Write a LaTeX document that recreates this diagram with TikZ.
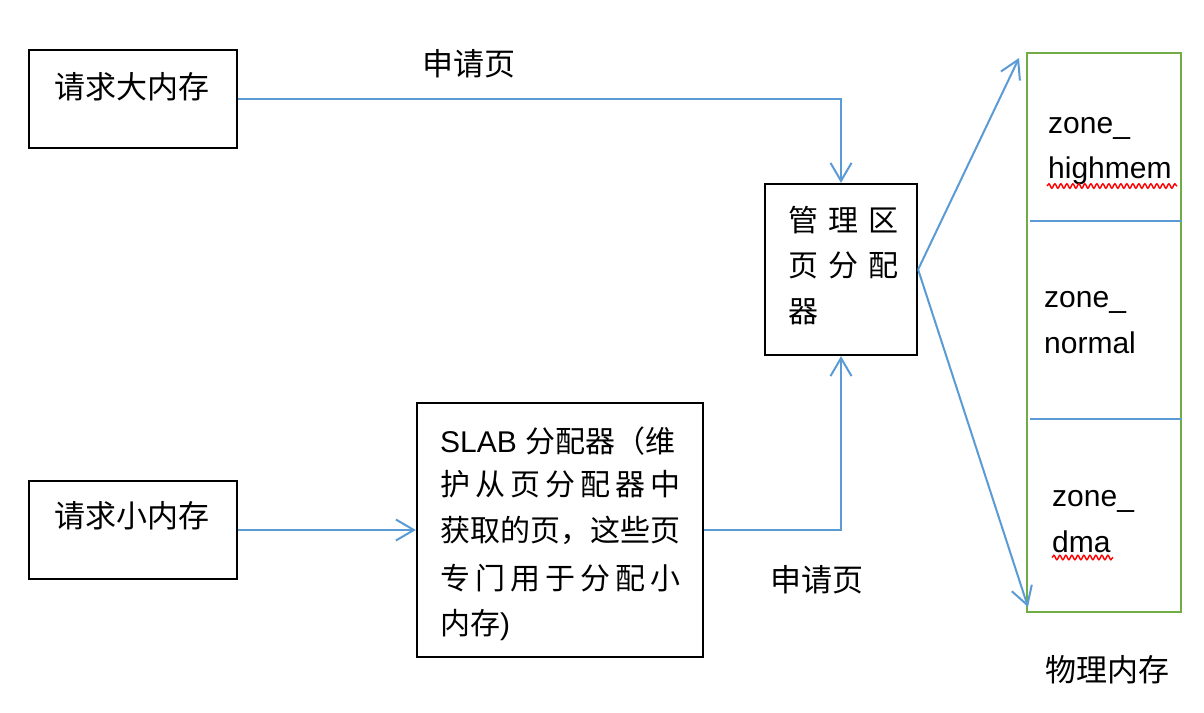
\documentclass[tikz,border=0pt]{standalone}
\usepackage{fontspec}
\setmainfont{Noto Sans CJK SC}
\newfontfamily\lat{Liberation Sans}
\usetikzlibrary{arrows.meta,decorations.pathmorphing}
\definecolor{lblue}{HTML}{5B9BD5}
\definecolor{lgreen}{HTML}{70AD47}
\begin{document}
\begin{tikzpicture}[x=1pt,y=-1pt,
  box/.style={draw=black, line width=2.2pt, inner sep=0pt, rectangle},
  conn/.style={draw=lblue, line width=2pt, -{Straight Barb[length=18pt,width=21pt]}},
  divider/.style={draw=lblue, line width=2pt},
  txt/.style={inner sep=0pt, font=\fontsize{30}{36}\selectfont, text height=26pt, text depth=4pt},
  btxt/.style={txt, font=\fontsize{31}{36}\selectfont},
  ltxt/.style={inner sep=0pt, anchor=base west, font=\lat\fontsize{30}{36}\selectfont},
  wavy/.style={draw=red, line width=1.4pt, decorate, decoration={snake, amplitude=2.2pt, segment length=6pt}}
]
\useasboundingbox (0,0) rectangle (1204,712);
\fill[white] (0,0) rectangle (1204,712);

% boxes
\node[box, minimum width=208pt, minimum height=98pt] (big) at (133,99) {};
\node[box, minimum width=208pt, minimum height=98pt] (small) at (133,530) {};
\node[box, minimum width=152pt, minimum height=171pt] (mgr) at (841,269.5) {};
\node[box, minimum width=286pt, minimum height=254pt] (slab) at (560,530) {};
\node[draw=lgreen, line width=2pt, inner sep=0pt, minimum width=154pt, minimum height=559pt] (mem) at (1104,332.5) {};

% box texts
\node[btxt] (bigt) at (132,87) {请求大内存};
\node[btxt] (smallt) at (132,516) {请求小内存};
\node[txt, anchor=west] (mgr1) at (788,220) {管\hspace{10pt}理\hspace{10pt}区};
\node[txt, anchor=west] (mgr2) at (788,265) {页\hspace{10pt}分\hspace{10pt}配};
\node[txt, anchor=west] (mgr3) at (788,311) {器};
\node[txt, anchor=west] (s1) at (440,441) {{\lat SLAB }分配器（维};
\node[txt, anchor=west] (s2) at (440,484) {\makebox[240pt][s]{护\hfill 从\hfill 页\hfill 分\hfill 配\hfill 器\hfill 中}};
\node[txt, anchor=west] (s3) at (440,530) {\makebox[240pt][s]{获取的页，这些页}};
\node[txt, anchor=west] (s4) at (440,578) {\makebox[240pt][s]{专\hfill 门\hfill 用\hfill 于\hfill 分\hfill 配\hfill 小}};
\node[txt, anchor=west] (s5) at (440,623) {内存{\lat )}};

% labels
\node[btxt] (l1) at (469,64) {申请页};
\node[btxt] (l2) at (817,580) {申请页};
\node[btxt] (l3) at (1107,670) {物理内存};

% zones
\draw[divider] (1030,221) -- (mem.east |- 0,221);
\draw[divider] (1030,419) -- (mem.east |- 0,419);
\node[ltxt] (z1a) at (1048,133) {zone\_};
\node[ltxt] (z1b) at (1048,178) {highmem};
\node[ltxt] (z2a) at (1044,307) {zone\_};
\node[ltxt] (z2b) at (1044,353) {normal};
\node[ltxt] (z3a) at (1052,506) {zone\_};
\node[ltxt] (z3b) at (1052,552) {dma};
\draw[wavy] (1047,186) -- (1177,186);
\draw[wavy] (1052,557.5) -- (1113,557.5);

% connectors
\coordinate (topend) at (1019,58);
\coordinate (botend) at (1028,607);
\draw[conn] (big.east) -- (big.east -| mgr.north) -- (mgr.north);
\draw[conn] (small.east) -- (slab.west);
\draw[conn] (slab.east) -- (slab.east -| mgr.south) -- (mgr.south);
\draw[conn] (mgr.east) -- (topend);
\draw[conn] (mgr.east) -- (botend);
\end{tikzpicture}
\end{document}
